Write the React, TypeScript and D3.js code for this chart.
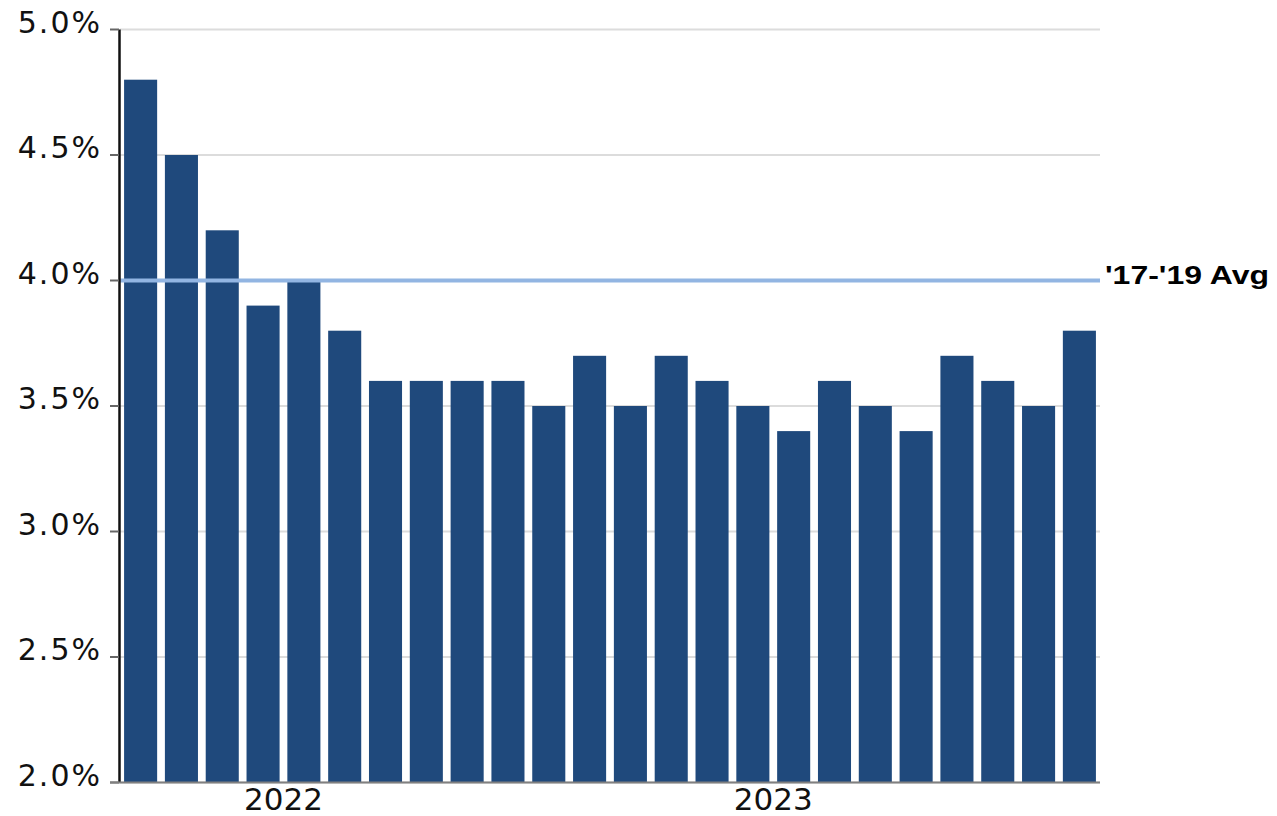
import React from 'react';
import * as d3 from 'd3';

// monthly values, Jan 2022 .. Dec 2023 (percent)
const months = [
  '2022-01', '2022-02', '2022-03', '2022-04', '2022-05', '2022-06',
  '2022-07', '2022-08', '2022-09', '2022-10', '2022-11', '2022-12',
  '2023-01', '2023-02', '2023-03', '2023-04', '2023-05', '2023-06',
  '2023-07', '2023-08', '2023-09', '2023-10', '2023-11', '2023-12',
];
const values = [
  4.8, 4.5, 4.2, 3.9, 4.0, 3.8, 3.6, 3.6, 3.6, 3.6, 3.5, 3.7,
  3.5, 3.7, 3.6, 3.5, 3.4, 3.6, 3.5, 3.4, 3.7, 3.6, 3.5, 3.8,
];
const yTicks = [2.0, 2.5, 3.0, 3.5, 4.0, 4.5, 5.0];
// year labels sit in the gap before May of each year
const yearLabels = [
  { label: '2022', month: '2022-05' },
  { label: '2023', month: '2023-05' },
];
const avgValue = 4.0;
const avgLabel = "'17-'19 Avg";

const width = 1277;
const height = 816;
const left = 120;
const right = 1100;
const top = 29.5;
const bottom = 782.5;

export default function App() {
  const x = d3.scaleBand<string>()
    .domain(months)
    .range([left, right])
    .paddingInner(0.19)
    .paddingOuter(0.1);

  const y = d3.scaleLinear()
    .domain([2.0, 5.0])
    .range([bottom, top]);

  const gap = x.step() * x.paddingInner();

  return (
    <svg width={width} height={height}
      style={{ display: 'block', position: 'absolute', left: 0, top: 0 }}>
      {/* grid lines */}
      {yTicks.map(t => (
        <line key={'g' + t} x1={left} x2={right} y1={y(t)} y2={y(t)}
          stroke="#dcdcdc" strokeWidth={2} />
      ))}

      {/* bars */}
      {months.map((m, i) => (
        <rect key={m} x={x(m)} y={y(values[i])} width={x.bandwidth()}
          height={y(2.0) - y(values[i])} fill="#1f497c" />
      ))}

      {/* average line */}
      <line x1={left} x2={right} y1={y(avgValue)} y2={y(avgValue)}
        stroke="#92b5e2" strokeWidth={4} />
      <g transform={`translate(${right + 5},${y(avgValue) + 3}) scale(1.28,1)`}>
        <text fontFamily="'Liberation Sans', Arial, sans-serif" fontWeight="bold"
          fontSize={25} fill="#000">{avgLabel}</text>
      </g>

      {/* y axis */}
      <line x1={left - 0.5} x2={left - 0.5} y1={top} y2={bottom} stroke="#111" strokeWidth={2.5} />
      {yTicks.map(t => (
        <g key={'t' + t}>
          <line x1={110} x2={left - 1} y1={y(t)} y2={y(t)} stroke="#666" strokeWidth={2} />
          <text x={102} y={y(t) + 3} textAnchor="end" fontFamily="'DejaVu Sans', sans-serif"
            fontSize={30} letterSpacing={2} fill="#111">{t.toFixed(1) + '%'}</text>
        </g>
      ))}

      {/* x axis */}
      <line x1={110} x2={right} y1={bottom} y2={bottom} stroke="#808080" strokeWidth={2} />
      {yearLabels.map(d => (
        <text key={d.label} x={(x(d.month) as number) - gap / 2} y={bottom + 27.5}
          textAnchor="middle" fontFamily="'DejaVu Sans', sans-serif" fontSize={31}
          fill="#111">{d.label}</text>
      ))}
    </svg>
  );
}
